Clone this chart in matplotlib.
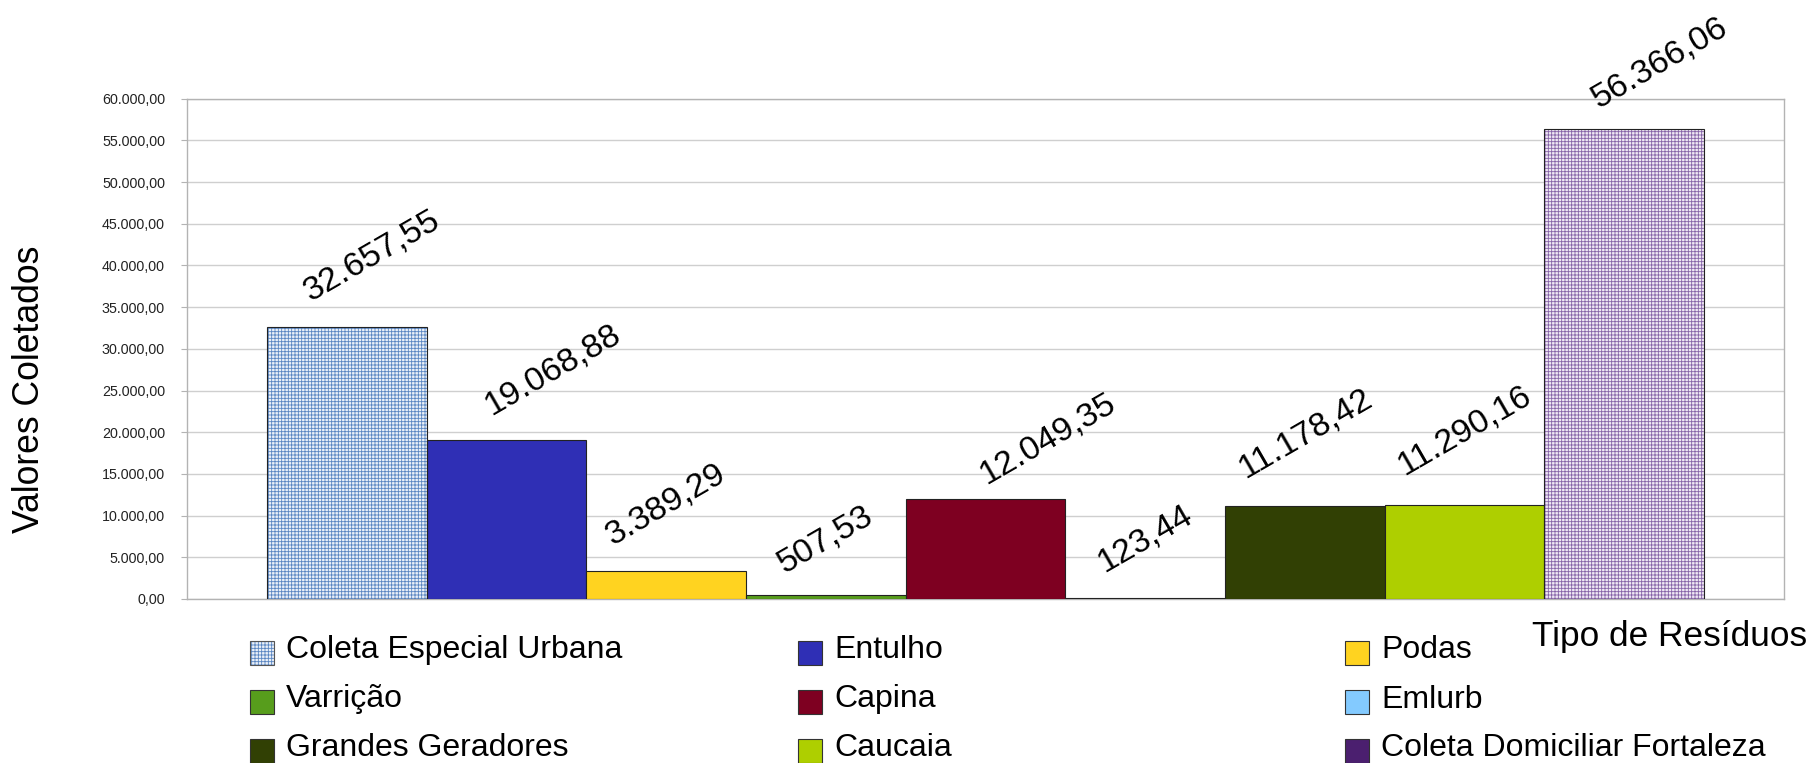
import matplotlib
matplotlib.use("Agg")
import matplotlib.pyplot as plt
from matplotlib.patches import Rectangle
from matplotlib.ticker import FuncFormatter
import numpy as np

plt.rcParams["font.family"] = ["Liberation Sans", "DejaVu Sans"]
plt.rcParams["hatch.linewidth"] = 0.6

categories = [
    "Coleta Especial Urbana", "Entulho", "Podas",
    "Varrição", "Capina", "Emlurb",
    "Grandes Geradores", "Caucaia", "Coleta Domiciliar Fortaleza",
]
values = [32657.55, 19068.88, 3389.29, 507.53, 12049.35, 123.44, 11178.42, 11290.16, 56366.06]
y_ticks = np.arange(0, 60001, 5000)

colors = ["#dfe8f4", "#2f2fb5", "#ffd320", "#579d1c", "#7e0021",
          "#83caff", "#314004", "#aecf00", "#4b1f6f"]
# textured series: (background, pattern colour)
patterns = {0: ("#eaf0f8", "#5a86c2"), 8: ("#efe8f4", "#8664a8")}

# value label nudges in pixels (x shift, gap above bar)
label_dx = [25, 46, 0, 0, 62, 0, 0, 0, 35]
label_gap = [26, 25, 26, 22, 14, 26, 28, 30, 21]

W, H = 1816, 763


def br_num(v):
    s = f"{v:,.2f}"
    return s.replace(",", "#").replace(".", ",").replace("#", ".")


def fx(px):
    return px / W


def fy(py):
    return 1 - py / H


fig = plt.figure(figsize=(W / 100, H / 100), dpi=100)
ax = fig.add_axes([fx(187), fy(599), fx(1784) - fx(187), fy(98.7) - fy(599)])

x = np.arange(len(values))
for i, v in enumerate(values):
    if i in patterns:
        bg, fg = patterns[i]
        ax.bar(x[i], v, width=1.0, color=bg, edgecolor=fg, hatch="+++++", linewidth=0, zorder=3)
        ax.bar(x[i], v, width=1.0, fill=False, edgecolor="#222222", linewidth=0.8, zorder=4)
    else:
        ax.bar(x[i], v, width=1.0, color=colors[i], edgecolor="#222222", linewidth=0.8, zorder=3)

    ax.annotate(br_num(v), (x[i], v),
                xytext=(label_dx[i] * 0.72, (label_gap[i] - 6) * 0.72),
                textcoords="offset points", rotation=30,
                ha="center", va="bottom", fontsize=24.5, color="black", zorder=5)

ax.set_xlim(-1, 9)
ax.set_ylim(0, 60000)
ax.set_yticks(y_ticks)
ax.yaxis.set_major_formatter(FuncFormatter(lambda v, _: br_num(v)))
ax.set_xticks([])
ax.tick_params(axis="y", length=4.3, width=0.8, color="#b3b3b3", pad=11.5,
               labelsize=10.3, labelcolor="#222222")
ax.grid(axis="y", color="#cfcfcf", linewidth=1.0, zorder=0)
for side in ax.spines.values():
    side.set_color("#b3b3b3")
    side.set_linewidth(1.0)

fig.text(fx(30), fy(389), "Valores Coletados", rotation=90, ha="center", va="center", fontsize=25.6)
fig.text(fx(1532), fy(646), "Tipo de Resíduos", ha="left", va="baseline", fontsize=25.4)

# legend, laid out row by row in three fixed columns
col_x = [250, 798, 1345]
row_top = [640.5, 690, 739]
box = 24
for k, name in enumerate(categories):
    r, c = divmod(k, 3)
    left, top = col_x[c], row_top[r]
    corner = (fx(left), fy(top + box))
    if k == 0:
        bg, fg = patterns[k]
        fig.add_artist(Rectangle(corner, fx(box), box / H, transform=fig.transFigure,
                                 facecolor=bg, edgecolor=fg, hatch="+++++", linewidth=0))
        fig.add_artist(Rectangle(corner, fx(box), box / H, transform=fig.transFigure,
                                 fill=False, edgecolor="#555555", linewidth=0.8))
    else:
        fig.add_artist(Rectangle(corner, fx(box), box / H, transform=fig.transFigure,
                                 facecolor=colors[k], edgecolor="#333333", linewidth=0.8))
    fig.text(fx(left + 36), fy(top + 17.5), name, ha="left", va="baseline", fontsize=23)

fig.savefig("out.png", dpi=100)
